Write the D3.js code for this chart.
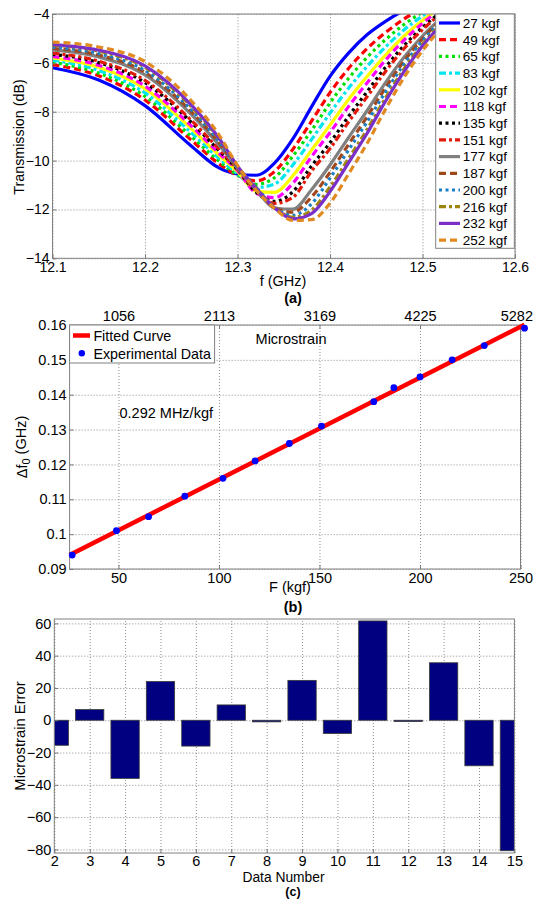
<!DOCTYPE html>
<html>
<head>
<meta charset="utf-8">
<script src="https://cdn.jsdelivr.net/npm/d3@7"></script>
<style>
body { margin: 0; background: #fff; }
text { font-family: "Liberation Sans", Arial, sans-serif; fill: #000; }
.grid line { stroke: #707070; stroke-width: 0.8; stroke-dasharray: 1,2; }
.grid path { display: none; }
.ax path { display: none; }
.ax line { stroke: #7a7a7a; }
</style>
</head>
<body>
<svg id="fig" width="534" height="899"></svg>
<script>
/////////////////////////////////////
///      DATA
/////////////////////////////////////
// (a) transmission curves, dB, sampled at freqGHz
var freqGHz = [12.10, 12.15, 12.20, 12.25, 12.28, 12.30, 12.32, 12.34, 12.36, 12.38, 12.40, 12.42, 12.44, 12.46, 12.48, 12.50, 12.53];
var loadLabels = ["27 kgf","49 kgf","65 kgf","83 kgf","102 kgf","118 kgf","135 kgf","151 kgf","177 kgf","187 kgf","200 kgf","216 kgf","232 kgf","252 kgf"];
var transmission = [
  [-6.20,-6.70,-7.75,-9.40,-10.30,-10.55,-10.60,-10.10,-9.10,-7.80,-6.55,-5.60,-4.85,-4.30,-3.85,-3.50,-3.00],
  [-6.07,-6.53,-7.52,-9.16,-10.13,-10.60,-10.83,-10.45,-9.53,-8.39,-7.22,-6.23,-5.42,-4.76,-4.20,-3.76,-3.15],
  [-5.98,-6.42,-7.37,-9.01,-10.02,-10.59,-10.97,-10.70,-9.81,-8.77,-7.64,-6.64,-5.78,-5.05,-4.43,-3.92,-3.25],
  [-5.89,-6.31,-7.23,-8.86,-9.91,-10.54,-11.10,-10.96,-10.17,-9.14,-8.06,-7.04,-6.15,-5.35,-4.65,-4.08,-3.35],
  [-5.80,-6.18,-7.06,-8.69,-9.78,-10.45,-11.25,-11.30,-10.61,-9.57,-8.55,-7.50,-6.56,-5.68,-4.91,-4.27,-3.46],
  [-5.74,-6.10,-6.95,-8.58,-9.70,-10.40,-11.33,-11.52,-10.92,-9.84,-8.85,-7.79,-6.82,-5.89,-5.07,-4.38,-3.53],
  [-5.65,-5.99,-6.81,-8.43,-9.59,-10.37,-11.29,-11.67,-11.27,-10.22,-9.27,-8.19,-7.18,-6.18,-5.29,-4.55,-3.63],
  [-5.60,-5.93,-6.72,-8.35,-9.53,-10.35,-11.23,-11.75,-11.50,-10.43,-9.51,-8.42,-7.39,-6.35,-5.42,-4.64,-3.68],
  [-5.47,-5.76,-6.49,-8.11,-9.36,-10.31,-11.18,-11.94,-11.99,-11.19,-10.18,-9.06,-7.96,-6.81,-5.77,-4.90,-3.84],
  [-5.41,-5.68,-6.39,-8.00,-9.28,-10.29,-11.11,-11.93,-12.11,-11.49,-10.48,-9.34,-8.21,-7.02,-5.93,-5.01,-3.91],
  [-5.36,-5.62,-6.31,-7.92,-9.22,-10.27,-11.08,-11.92,-12.24,-11.77,-10.72,-9.57,-8.42,-7.19,-6.06,-5.10,-3.96],
  [-5.28,-5.52,-6.18,-7.79,-9.12,-10.25,-11.12,-11.91,-12.32,-12.03,-11.08,-9.92,-8.73,-7.44,-6.25,-5.24,-4.05],
  [-5.25,-5.48,-6.12,-7.72,-9.08,-10.23,-11.14,-11.93,-12.39,-12.17,-11.27,-10.09,-8.89,-7.57,-6.36,-5.31,-4.09],
  [-5.15,-5.35,-5.95,-7.55,-8.95,-10.20,-11.20,-11.95,-12.45,-12.42,-11.75,-10.55,-9.30,-7.90,-6.60,-5.50,-4.20]
];
var freqTicks = [12.1, 12.2, 12.3, 12.4, 12.5, 12.6];
var dbTicks = [-14, -12, -10, -8, -6, -4];

// (b) resonance shift vs load
var forceKgf = [27, 49, 65, 83, 102, 118, 135, 151, 177, 187, 200, 216, 232, 252];
var shiftGHz = [0.0940, 0.1010, 0.1050, 0.1109, 0.1160, 0.1210, 0.1260, 0.1310, 0.1380, 0.1420, 0.1451, 0.1500, 0.1541, 0.1591];
var fitKgf = [25.7, 252];
var fitGHz = [0.0940, 0.1601];
var forceTicks = [50, 100, 150, 200, 250];
var strainTickLabels = ["1056", "2113", "3169", "4225", "5282"];
var shiftTicks = [0.09, 0.10, 0.11, 0.12, 0.13, 0.14, 0.15, 0.16];

// (c) microstrain error per data number
var dataNumber = [2, 3, 4, 5, 6, 7, 8, 9, 10, 11, 12, 13, 14, 15];
var strainError = [-15.5, 6.6, -36, 24, -16, 9.5, -1, 24.7, -8.2, 61.5, -0.8, 35.6, -28.2, -80.8];
var errorTicks = [-80, -60, -40, -20, 0, 20, 40, 60];

/////////////////////////////////////
///      STYLES
/////////////////////////////////////
var lineColors = ["#0000ff","#ff0000","#00e000","#00e5ee","#ffff00","#ff00ff","#000000","#e01a0a",
                  "#808080","#a0481e","#1a7fc4","#a08410","#7a30c8","#e08a20"];
var DASH = "7,4", DOT = "3,3.5", DASHDOT = "7,3,3,3";
var lineDashes = [null, DASH, DOT, DASHDOT, null, DASH, DOT, DASHDOT, null, DASH, DOT, DASHDOT, null, DASH];

var svg = d3.select("#fig");
var frameColor = "#808080";

function makePanel(id, box, xDomain, yDomain, xTicks, yTicks, xFmt, yFmt, fontSize, pad) {
  var x = d3.scaleLinear().domain(xDomain).range([box.left, box.right]);
  var y = d3.scaleLinear().domain(yDomain).range([box.bottom, box.top]);
  var g = svg.append("g");
  var w = box.right - box.left, h = box.bottom - box.top;

  g.append("defs").append("clipPath").attr("id", id)
    .append("rect").attr("x", box.left).attr("y", box.top).attr("width", w).attr("height", h);

  // dotted grid
  g.append("g").attr("class", "grid")
    .attr("transform", "translate(0," + box.bottom + ")")
    .call(d3.axisBottom(x).tickValues(xTicks).tickSize(-h).tickFormat(""));
  g.append("g").attr("class", "grid")
    .attr("transform", "translate(" + box.left + ",0)")
    .call(d3.axisLeft(y).tickValues(yTicks).tickSize(-w).tickFormat(""));

  var plot = g.append("g").attr("clip-path", "url(#" + id + ")");

  // frame and axes
  g.append("rect").attr("x", box.left).attr("y", box.top).attr("width", w).attr("height", h)
    .attr("fill", "none").attr("stroke", frameColor).attr("stroke-width", 1);

  g.append("g").attr("class", "ax")
    .attr("transform", "translate(0," + box.bottom + ")")
    .call(d3.axisBottom(x).tickValues(xTicks).tickSize(-4).tickPadding(pad.x).tickFormat(xFmt));
  g.append("g").attr("class", "ax")
    .attr("transform", "translate(" + box.left + ",0)")
    .call(d3.axisLeft(y).tickValues(yTicks).tickSize(-4).tickPadding(pad.y).tickFormat(yFmt));
  g.selectAll(".ax text").style("font-size", fontSize + "px")
    .style("font-family", "'Liberation Sans', Arial, sans-serif");

  return { g: g, plot: plot, x: x, y: y, box: box };
}

function label(txt, x, y, size, anchor, bold) {
  return svg.append("text").attr("x", x).attr("y", y)
    .attr("text-anchor", anchor || "middle")
    .style("font-size", size + "px")
    .style("font-weight", bold ? "bold" : "normal")
    .text(txt);
}

function vlabel(txt, x, y, size) {
  return svg.append("text")
    .attr("transform", "translate(" + x + "," + y + ") rotate(-90)")
    .attr("text-anchor", "middle")
    .style("font-size", size + "px")
    .text(txt);
}

/////////////////////////////////////
///      (a) TRANSMISSION
/////////////////////////////////////
var pA = makePanel("clipA", {left: 52.5, right: 515, top: 14, bottom: 258.3},
  [12.1, 12.6], [-14, -4], freqTicks, dbTicks, d3.format(".1f"), d3.format("d"), 14, {x: 4, y: 3});

var curve = d3.line()
  .x(function(d) { return pA.x(d[0]); })
  .y(function(d) { return pA.y(d[1]); })
  .curve(d3.curveMonotoneX);

transmission.forEach(function(row, i) {
  pA.plot.append("path")
    .datum(row.map(function(v, j) { return [freqGHz[j], v]; }))
    .attr("d", curve)
    .attr("fill", "none")
    .attr("stroke", lineColors[i])
    .attr("stroke-width", 3.2)
    .attr("stroke-dasharray", lineDashes[i]);
});

var legA = pA.g.append("g");
legA.append("rect").attr("x", 435.7).attr("y", 14).attr("width", 78.6).attr("height", 234.3)
  .attr("fill", "#fff").attr("stroke", frameColor);
loadLabels.forEach(function(lbl, i) {
  var ly = 23 + i * 16.7;
  legA.append("line").attr("x1", 439).attr("x2", 460).attr("y1", ly).attr("y2", ly)
    .attr("stroke", lineColors[i]).attr("stroke-width", 3.2)
    .attr("stroke-dasharray", lineDashes[i]);
  legA.append("text").attr("x", 462.7).attr("y", ly).attr("dy", "0.36em")
    .style("font-size", "13.5px").text(lbl);
});

label("f (GHz)", 283, 286, 14.5);
label("(a)", 293, 303, 14.5, "middle", true);
vlabel("Transmission (dB)", 23.5, 137, 14.3);

/////////////////////////////////////
///      (b) FREQUENCY SHIFT
/////////////////////////////////////
var pB = makePanel("clipB", {left: 69.6, right: 520.5, top: 325, bottom: 569},
  [25.7, 250], [0.09, 0.16], forceTicks, shiftTicks, d3.format("d"), d3.format(""), 14.5, {x: 4, y: 3});

var topAx = pB.g.append("g").attr("class", "ax")
  .attr("transform", "translate(0," + pB.box.top + ")")
  .call(d3.axisTop(pB.x).tickValues(forceTicks).tickSize(-4).tickPadding(4)
    .tickFormat(function(d, i) { return strainTickLabels[i]; }));
topAx.selectAll("text").style("font-size", "14.5px");
// last label sits against the page edge
topAx.selectAll("text").filter(function(d, i) { return i === strainTickLabels.length - 1; })
  .attr("text-anchor", "end").attr("dx", "12px");

var fitLine = d3.line()
  .x(function(d) { return pB.x(d[0]); })
  .y(function(d) { return pB.y(d[1]); });

pB.g.append("path")
  .datum(fitKgf.map(function(f, i) { return [f, fitGHz[i]]; }))
  .attr("d", fitLine)
  .attr("fill", "none").attr("stroke", "#ff0000").attr("stroke-width", 4.5);

pB.g.append("g").selectAll("circle")
  .data(forceKgf.map(function(f, i) { return [f, shiftGHz[i]]; }))
  .join("circle")
  .attr("cx", function(d) { return pB.x(d[0]); })
  .attr("cy", function(d) { return pB.y(d[1]); })
  .attr("r", 3.4)
  .attr("fill", "#0000ff");

var legB = pB.g.append("g");
legB.append("rect").attr("x", 69.6).attr("y", 325).attr("width", 145).attr("height", 38)
  .attr("fill", "#fff").attr("stroke", frameColor);
legB.append("line").attr("x1", 73).attr("x2", 90).attr("y1", 335.5).attr("y2", 335.5)
  .attr("stroke", "#ff0000").attr("stroke-width", 4.5);
legB.append("text").attr("x", 93.4).attr("y", 340.5).style("font-size", "14.3px").text("Fitted Curve");
legB.append("circle").attr("cx", 81.8).attr("cy", 353.3).attr("r", 3.2).attr("fill", "#0000ff");
legB.append("text").attr("x", 93.4).attr("y", 358.5).style("font-size", "14.3px").text("Experimental Data");

label("Microstrain", 291, 344, 14.5);
label("0.292 MHz/kgf", 119.5, 418, 14.5, "start");
label("F (kgf)", 290, 592, 14.5);
label("(b)", 293, 612, 14.5, "middle", true);

var yLabB = svg.append("text")
  .attr("transform", "translate(27,447) rotate(-90)")
  .attr("text-anchor", "middle")
  .style("font-size", "14.5px");
yLabB.append("tspan").text("\u0394f");
yLabB.append("tspan").attr("dy", "0.3em").style("font-size", "11px").text("0");
yLabB.append("tspan").attr("dy", "-0.3em").text(" (GHz)");

/////////////////////////////////////
///      (c) MICROSTRAIN ERROR
/////////////////////////////////////
var pC = makePanel("clipC", {left: 54.3, right: 514.4, top: 619, bottom: 853},
  [2, 15], [-82.2, 62.7], dataNumber, errorTicks, d3.format("d"), d3.format("d"), 14.5, {x: 3, y: 3});

pC.plot.selectAll("rect.bar")
  .data(dataNumber.map(function(n, i) { return [n, strainError[i]]; }))
  .join("rect")
  .attr("class", "bar")
  .attr("x", function(d) { return pC.x(d[0] - 0.4); })
  .attr("width", function(d) { return pC.x(d[0] + 0.4) - pC.x(d[0] - 0.4); })
  .attr("y", function(d) { return pC.y(Math.max(0, d[1])); })
  .attr("height", function(d) { return Math.abs(pC.y(d[1]) - pC.y(0)); })
  .attr("fill", "#000080")
  .attr("stroke", "#3a3a3a")
  .attr("stroke-width", 0.8);

label("Data Number", 283.5, 882, 13.8);
label("(c)", 293, 896.3, 12.5, "middle", true);
vlabel("Microstrain Error", 24.5, 736, 14.8);
</script>
</body>
</html>
